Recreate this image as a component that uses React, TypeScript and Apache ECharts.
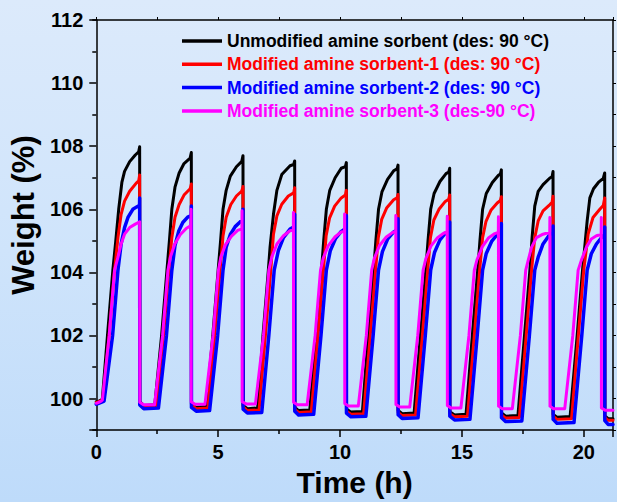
import React, { useEffect, useRef } from "react";
import * as echarts from "echarts";

const seriesNames = [
  "Unmodified amine sorbent (des: 90 °C)",
  "Modified amine sorbent-1 (des: 90 °C)",
  "Modified amine sorbent-2 (des: 90 °C)",
  "Modified amine sorbent-3 (des-90 °C)",
];
const seriesColors = ["#000000", "#ff0000", "#0000ff", "#ff00ff"];

const xTickLabels = ["0", "5", "10", "15", "20"];
const yTickLabels = ["100", "102", "104", "106", "108", "110", "112"];

// [time (h), weight (%)]
const unmodified: [number, number][] = [
  [0, 99.9], [0.1, 99.92], [0.2, 99.95],
  [0.25, 100.0], [0.46, 102.0], [0.68, 104.07], [0.8, 105.0], [0.92, 106.0], [1.05, 106.85], [1.16, 107.2], [1.37, 107.51], [1.6, 107.72], [1.74, 107.82], [1.78, 107.98],
  [1.785, 99.9], [1.95, 99.78], [2.4, 99.8],
  [2.68, 102.0], [2.9, 104.07], [3.0, 105.0], [3.1, 106.0], [3.23, 106.7], [3.4, 107.15], [3.6, 107.45], [3.85, 107.62], [3.9, 107.8],
  [3.905, 99.82], [4.1, 99.72], [4.52, 99.75],
  [4.78, 102.0], [5.0, 104.07], [5.1, 105.0], [5.2, 106.0], [5.33, 106.6], [5.5, 107.05], [5.75, 107.35], [5.97, 107.52], [6.02, 107.7],
  [6.025, 99.78], [6.2, 99.68], [6.62, 99.7],
  [6.84, 102.0], [7.06, 104.07], [7.13, 104.8], [7.27, 105.84], [7.41, 106.6], [7.61, 107.1], [7.95, 107.38], [8.1, 107.42], [8.14, 107.53],
  [8.145, 99.72], [8.3, 99.62], [8.76, 99.64],
  [9.02, 102.0], [9.24, 104.07], [9.33, 105.0], [9.44, 106.0], [9.58, 106.6], [9.8, 107.0], [10.05, 107.3], [10.22, 107.35], [10.26, 107.48],
  [10.265, 99.67], [10.45, 99.57], [10.92, 99.59],
  [11.16, 102.0], [11.38, 104.07], [11.47, 105.0], [11.58, 106.0], [11.72, 106.55], [11.95, 106.95], [12.2, 107.22], [12.34, 107.28], [12.38, 107.4],
  [12.385, 99.62], [12.55, 99.52], [13.04, 99.54],
  [13.3, 102.0], [13.52, 104.07], [13.61, 105.0], [13.72, 106.0], [13.86, 106.5], [14.1, 106.88], [14.35, 107.13], [14.46, 107.18], [14.5, 107.3],
  [14.505, 99.58], [14.7, 99.48], [15.17, 99.5],
  [15.43, 102.0], [15.65, 104.07], [15.74, 105.0], [15.85, 106.0], [16.0, 106.5], [16.25, 106.85], [16.5, 107.08], [16.58, 107.12], [16.62, 107.25],
  [16.625, 99.54], [16.8, 99.44], [17.3, 99.46],
  [17.57, 102.0], [17.79, 104.07], [17.88, 105.1], [17.99, 106.1], [18.13, 106.57], [18.33, 106.78], [18.61, 106.99], [18.7, 107.03], [18.74, 107.2],
  [18.745, 99.5], [18.9, 99.41], [19.44, 99.43],
  [19.73, 102.0], [19.95, 104.07], [20.04, 104.8], [20.14, 105.63], [20.25, 106.36], [20.4, 106.65], [20.6, 106.85], [20.8, 106.98], [20.86, 107.15],
  [20.865, 99.45], [21.0, 99.36], [21.2, 99.36],
];

const modified1: [number, number][] = [
  [0, 99.88], [0.1, 99.9], [0.2, 99.93],
  [0.27, 99.98], [0.53, 102.0], [0.75, 104.07], [0.89, 105.1], [1.02, 105.84], [1.16, 106.26], [1.37, 106.57], [1.64, 106.83], [1.74, 106.9], [1.78, 107.09],
  [1.785, 99.86], [1.95, 99.74], [2.46, 99.76],
  [2.76, 102.0], [2.98, 104.07], [3.1, 105.1], [3.23, 105.75], [3.4, 106.15], [3.6, 106.45], [3.85, 106.65], [3.9, 106.8],
  [3.905, 99.8], [4.1, 99.68], [4.58, 99.7],
  [4.86, 102.0], [5.08, 104.07], [5.2, 105.15], [5.33, 105.75], [5.52, 106.15], [5.75, 106.42], [5.97, 106.58], [6.02, 106.72],
  [6.025, 99.74], [6.2, 99.62], [6.68, 99.64],
  [6.94, 102.0], [7.16, 104.07], [7.27, 105.21], [7.41, 105.79], [7.61, 106.16], [7.88, 106.42], [8.1, 106.52], [8.14, 106.68],
  [8.145, 99.66], [8.3, 99.56], [8.82, 99.58],
  [9.1, 102.0], [9.32, 104.07], [9.43, 105.15], [9.57, 105.72], [9.78, 106.1], [10.05, 106.36], [10.22, 106.45], [10.26, 106.6],
  [10.265, 99.6], [10.45, 99.5], [10.97, 99.52],
  [11.24, 102.0], [11.46, 104.07], [11.57, 105.1], [11.71, 105.68], [11.92, 106.05], [12.2, 106.3], [12.34, 106.36], [12.38, 106.47],
  [12.385, 99.56], [12.55, 99.46], [13.1, 99.48],
  [13.38, 102.0], [13.6, 104.07], [13.71, 105.1], [13.85, 105.66], [14.06, 106.0], [14.32, 106.25], [14.46, 106.32], [14.5, 106.45],
  [14.505, 99.52], [14.7, 99.42], [15.23, 99.44],
  [15.51, 102.0], [15.73, 104.07], [15.85, 105.1], [15.99, 105.62], [16.2, 105.98], [16.45, 106.2], [16.58, 106.28], [16.62, 106.4],
  [16.625, 99.48], [16.8, 99.38], [17.36, 99.4],
  [17.64, 102.0], [17.86, 104.07], [17.99, 105.1], [18.13, 105.63], [18.33, 105.95], [18.61, 106.15], [18.7, 106.22], [18.74, 106.41],
  [18.745, 99.44], [18.9, 99.34], [19.5, 99.36],
  [19.78, 102.0], [20.0, 104.07], [20.18, 105.21], [20.38, 105.74], [20.66, 106.0], [20.8, 106.12], [20.86, 106.36],
  [20.865, 99.4], [21.0, 99.31], [21.2, 99.31],
];

const modified2: [number, number][] = [
  [0, 99.82], [0.1, 99.85], [0.2, 99.88],
  [0.32, 99.92], [0.67, 102.0], [0.89, 104.07], [1.02, 104.9], [1.16, 105.42], [1.3, 105.74], [1.5, 106.0], [1.71, 106.1], [1.775, 106.12], [1.78, 106.36],
  [1.785, 99.8], [1.95, 99.68], [2.55, 99.7],
  [2.88, 102.0], [3.1, 104.07], [3.23, 104.85], [3.38, 105.3], [3.55, 105.58], [3.75, 105.75], [3.895, 105.8], [3.9, 106.1],
  [3.905, 99.72], [4.1, 99.6], [4.65, 99.62],
  [4.98, 102.0], [5.2, 104.07], [5.33, 104.8], [5.5, 105.2], [5.7, 105.45], [5.9, 105.6], [6.015, 105.65], [6.02, 106.0],
  [6.025, 99.66], [6.2, 99.54], [6.79, 99.56],
  [7.08, 102.0], [7.3, 104.07], [7.47, 104.69], [7.68, 105.1], [7.95, 105.37], [8.135, 105.45], [8.14, 105.84],
  [8.145, 99.6], [8.3, 99.48], [8.92, 99.5],
  [9.22, 102.0], [9.44, 104.07], [9.6, 104.68], [9.82, 105.08], [10.05, 105.3], [10.255, 105.4], [10.26, 105.8],
  [10.265, 99.54], [10.45, 99.42], [11.06, 99.44],
  [11.36, 102.0], [11.58, 104.07], [11.74, 104.66], [11.95, 105.05], [12.2, 105.28], [12.375, 105.36], [12.38, 105.7],
  [12.385, 99.49], [12.55, 99.37], [13.2, 99.39],
  [13.5, 102.0], [13.72, 104.07], [13.88, 104.64], [14.1, 105.03], [14.33, 105.25], [14.495, 105.32], [14.5, 105.6],
  [14.505, 99.44], [14.7, 99.32], [15.33, 99.34],
  [15.63, 102.0], [15.85, 104.07], [16.0, 104.6], [16.22, 104.98], [16.45, 105.2], [16.615, 105.28], [16.62, 105.55],
  [16.625, 99.39], [16.8, 99.27], [17.46, 99.29],
  [17.77, 102.0], [17.99, 104.07], [18.13, 104.48], [18.33, 104.9], [18.61, 105.21], [18.735, 105.25], [18.74, 105.47],
  [18.745, 99.34], [18.9, 99.22], [19.6, 99.24],
  [19.92, 102.0], [20.14, 104.07], [20.31, 104.59], [20.52, 104.9], [20.79, 105.16], [20.855, 105.2], [20.86, 105.44],
  [20.865, 99.3], [21.0, 99.18], [21.2, 99.18],
];

const modified3: [number, number][] = [
  [0, 99.85], [0.1, 99.88], [0.2, 99.92],
  [0.25, 99.95], [0.53, 102.0], [0.75, 104.07], [0.89, 104.48], [1.02, 104.9], [1.16, 105.21], [1.37, 105.42], [1.6, 105.53], [1.78, 105.6],
  [1.785, 99.88], [1.95, 99.8], [2.39, 99.8],
  [2.72, 102.0], [2.94, 104.07], [3.04, 104.48], [3.22, 104.9], [3.45, 105.2], [3.7, 105.4], [3.885, 105.48], [3.89, 106.0],
  [3.895, 99.9], [4.05, 99.82], [4.46, 99.82],
  [4.79, 102.0], [5.01, 104.07], [5.11, 104.48], [5.3, 104.88], [5.55, 105.15], [5.8, 105.33], [5.975, 105.38], [5.98, 105.95],
  [5.985, 99.9], [6.15, 99.83], [6.53, 99.83],
  [6.86, 102.0], [7.08, 104.07], [7.2, 104.48], [7.41, 104.9], [7.68, 105.16], [7.95, 105.32], [8.085, 105.34], [8.09, 105.9],
  [8.095, 99.88], [8.25, 99.8], [8.65, 99.8],
  [8.98, 102.0], [9.2, 104.07], [9.31, 104.45], [9.52, 104.85], [9.8, 105.13], [10.05, 105.28], [10.185, 105.3], [10.19, 105.85],
  [10.195, 99.84], [10.35, 99.76], [10.75, 99.76],
  [11.08, 102.0], [11.3, 104.07], [11.41, 104.45], [11.62, 104.85], [11.9, 105.12], [12.15, 105.26], [12.285, 105.3], [12.29, 105.8],
  [12.295, 99.81], [12.45, 99.73], [12.86, 99.73],
  [13.19, 102.0], [13.41, 104.07], [13.52, 104.43], [13.73, 104.83], [14.0, 105.1], [14.25, 105.24], [14.395, 105.28], [14.4, 105.78],
  [14.405, 99.78], [14.55, 99.7], [14.96, 99.7],
  [15.29, 102.0], [15.51, 104.07], [15.62, 104.4], [15.83, 104.8], [16.1, 105.1], [16.35, 105.23], [16.495, 105.27], [16.5, 105.76],
  [16.505, 99.76], [16.65, 99.68], [17.07, 99.68],
  [17.4, 102.0], [17.62, 104.07], [17.72, 104.38], [17.86, 104.8], [18.06, 105.1], [18.33, 105.21], [18.605, 105.27], [18.61, 105.74],
  [18.615, 99.76], [18.75, 99.68], [19.22, 99.68],
  [19.55, 102.0], [19.77, 104.07], [19.9, 104.38], [20.11, 104.8], [20.31, 105.06], [20.52, 105.16], [20.715, 105.2], [20.72, 105.74],
  [20.725, 99.7], [20.88, 99.63], [21.2, 99.63],
];

const allData = [unmodified, modified1, modified2, modified3];

const FONT = "'Liberation Sans', Arial, Helvetica, sans-serif";

export default function App() {
  const ref = useRef<HTMLDivElement>(null);
  useEffect(() => {
    if (!ref.current) return;
    const chart = echarts.init(ref.current, null, { renderer: "svg" });
    const option: any = {
      animation: false,
      backgroundColor: "transparent",
      textStyle: { fontFamily: FONT },
      grid: { left: 96, right: 4, top: 20, bottom: 66, containLabel: false },
      legend: {
        left: 182,
        top: 32,
        padding: 0,
        orient: "vertical",
        icon: "rect",
        itemWidth: 40,
        itemHeight: 3.5,
        itemGap: 5.3,
        textStyle: { fontFamily: FONT, fontWeight: "bold", fontSize: 17.5, lineHeight: 18 },
        data: seriesNames.map((n, i) => ({ name: n, textStyle: { color: seriesColors[i] } })),
      },
      xAxis: [
        {
          type: "value",
          position: "bottom",
          min: 0,
          max: 21.2,
          interval: 5,
          name: "Time (h)",
          nameLocation: "middle",
          nameGap: 31,
          nameTextStyle: { fontFamily: FONT, fontWeight: "bold", fontSize: 30, color: "#000" },
          axisLine: { show: true, onZero: false, lineStyle: { color: "#000", width: 1.5 } },
          axisTick: { show: true, inside: false, length: 7, lineStyle: { color: "#000", width: 1.5 } },
          minorTick: { show: true, splitNumber: 2, length: 4, lineStyle: { color: "#000", width: 1.5 } },
          splitLine: { show: false },
          axisLabel: {
            margin: 12,
            fontFamily: FONT,
            fontWeight: "bold",
            fontSize: 20,
            color: "#000",
            formatter: (v: number) => (xTickLabels.includes(String(v)) ? String(v) : ""),
          },
        },
        {
          type: "value",
          position: "top",
          min: 0,
          max: 21.2,
          interval: 2.5,
          axisLine: { show: true, onZero: false, lineStyle: { color: "#000", width: 1.5 } },
          axisTick: { show: true, inside: false, length: 3, lineStyle: { color: "#000", width: 1 } },
          axisLabel: { show: false },
          splitLine: { show: false },
        },
      ],
      yAxis: [
        {
          type: "value",
          position: "left",
          min: 99,
          max: 112,
          minInterval: 2,
          maxInterval: 2,
          splitNumber: 6,
          name: "Weight (%)",
          nameLocation: "middle",
          nameGap: 52,
          nameTextStyle: { fontFamily: FONT, fontWeight: "bold", fontSize: 31, color: "#000", padding: [0, 0, 0, 20] },
          axisLine: { show: true, onZero: false, lineStyle: { color: "#000", width: 1.5 } },
          axisTick: { show: true, inside: false, length: 7, lineStyle: { color: "#000", width: 1.5 } },
          splitLine: { show: false },
          axisLabel: {
            margin: 13,
            fontFamily: FONT,
            fontWeight: "bold",
            fontSize: 20,
            color: "#000",
            formatter: (v: number) => (yTickLabels.includes(String(v)) ? String(v) : ""),
          },
        },
        {
          type: "value",
          position: "left",
          min: 99,
          max: 112,
          interval: 2,
          axisLine: { show: false },
          axisTick: { show: true, inside: false, length: 4, lineStyle: { color: "#000", width: 1.5 } },
          axisLabel: { show: false },
          splitLine: { show: false },
        },
        {
          type: "value",
          position: "right",
          min: 99,
          max: 112,
          interval: 1,
          axisLine: { show: true, onZero: false, lineStyle: { color: "#000", width: 1.5 } },
          axisTick: { show: true, inside: false, length: 3, lineStyle: { color: "#000", width: 1 } },
          axisLabel: { show: false },
          splitLine: { show: false },
        },
      ],
      series: allData.map((d, i) => ({
        name: seriesNames[i],
        type: "line",
        xAxisIndex: 0,
        yAxisIndex: 0,
        data: d,
        symbol: "none",
        showSymbol: false,
        smooth: false,
        z: 2 + i,
        lineStyle: { color: seriesColors[i], width: i === 2 ? 3.5 : 3, join: "round", cap: "round" },
        itemStyle: { color: seriesColors[i] },
        clip: true,
      })),
    };
    chart.setOption(option);
    return () => chart.dispose();
  }, []);
  return (
    <div
      style={{
        position: "fixed",
        left: 0,
        top: 0,
        width: 617,
        height: 502,
        background: "linear-gradient(180deg, #dceafb 0%, #cfe4fb 50%, #bedbfa 100%)",
      }}
    >
      <div ref={ref} style={{ width: 617, height: 502 }} />
    </div>
  );
}
